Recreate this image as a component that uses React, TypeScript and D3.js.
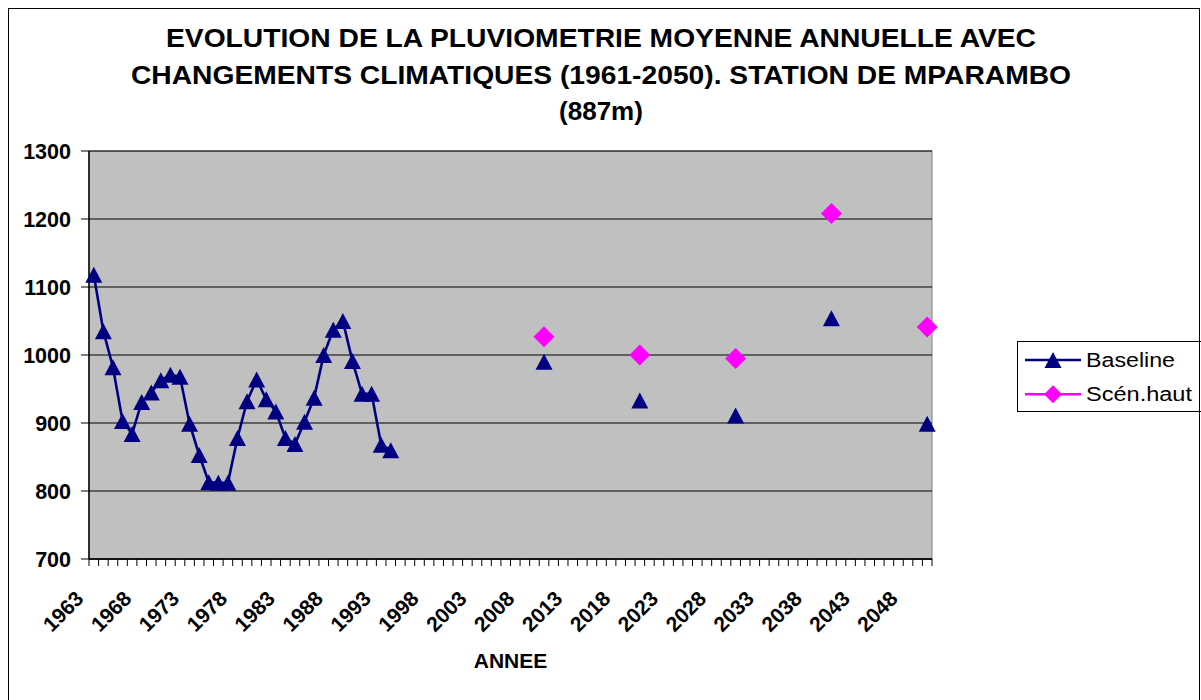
import React from "react";
import * as d3 from "d3";

const titleLines = [
  "EVOLUTION DE LA PLUVIOMETRIE MOYENNE ANNUELLE AVEC",
  "CHANGEMENTS CLIMATIQUES (1961-2050). STATION DE MPARAMBO",
  "(887m)",
];
const titleWidths = [870, 940, 0];

const firstYear = 1963;
const lastYear = 2050;
const categories = d3.range(firstYear, lastYear + 1);
const xTickLabels = [1963, 1968, 1973, 1978, 1983, 1988, 1993, 1998, 2003, 2008, 2013, 2018, 2023, 2028, 2033, 2038, 2043, 2048];
const yTicks = [700, 800, 900, 1000, 1100, 1200, 1300];

const histYears = [
  1963, 1964, 1965, 1966, 1967, 1968, 1969, 1970, 1971, 1972, 1973, 1974, 1975, 1976, 1977, 1978,
  1979, 1980, 1981, 1982, 1983, 1984, 1985, 1986, 1987, 1988, 1989, 1990, 1991, 1992, 1993, 1994,
];
const histBaseline = [
  1118, 1035, 982, 903, 884, 931, 945, 963, 971, 968, 899, 853, 813, 812, 812, 878,
  932, 964, 935, 917, 878, 869, 902, 937, 1000, 1037, 1050, 991, 943, 943, 868, 860,
];
const futureYears = [2010, 2020, 2030, 2040, 2050];
const futureBaseline = [990, 933, 911, 1054, 899];
const scenHaut = [1027, 1000, 995, 1208, 1041];

const legendItems = ["Baseline", "Scén.haut"];

const NAVY = "#000080";
const MAGENTA = "#FF00FF";
const FONT = "'Liberation Sans', Arial, sans-serif";

export default function App() {
  const left = 89, right = 932, top = 151, bottom = 559;
  const x = d3.scaleBand<number>().domain(categories).range([left, right]).padding(0);
  const y = d3.scaleLinear().domain([700, 1300]).range([bottom, top]);
  const cx = (yr: number) => (x(yr) as number) + x.bandwidth() / 2;

  const histPts = histYears.map((yr, i) => ({ yr, v: histBaseline[i] }));
  const line = d3.line<{ yr: number; v: number }>().x((d) => cx(d.yr)).y((d) => y(d.v));

  const diamond = (s: number) => `M0,${-s}L${s},0L0,${s}L${-s},0Z`;
  const triPath = (px: number, py: number) => {
    const h = 16, w = 17;
    return `M${px},${py - h / 2}L${px + w / 2},${py + h / 2}L${px - w / 2},${py + h / 2}Z`;
  };

  const boundaries = categories.map((c) => x(c) as number).concat([right]);

  return (
    <svg
      width={1201}
      height={700}
      style={{ position: "absolute", left: 0, top: 0, background: "#fff" }}
      fontFamily={FONT}
    >
      <rect x={8.5} y={8.5} width={1191} height={720} fill="#fff" stroke="#000" strokeWidth={1} />
      {titleLines.map((t, i) => (
        <text
          key={i}
          x={601}
          y={47 + i * 36.7}
          textAnchor="middle"
          fontWeight="bold"
          fontSize={26}
          {...(titleWidths[i] ? { textLength: titleWidths[i], lengthAdjust: "spacingAndGlyphs" } : {})}
        >
          {t}
        </text>
      ))}
      <rect x={left} y={top} width={right - left} height={bottom - top} fill="#C0C0C0" stroke="#808080" strokeWidth={1} />
      {yTicks.map((t) => (
        <g key={t}>
          <line x1={left} x2={right} y1={y(t)} y2={y(t)} stroke="#000" strokeWidth={1} />
          <line x1={left - 8} x2={left} y1={y(t)} y2={y(t)} stroke="#000" strokeWidth={1} />
          <text x={71} y={y(t)} dy="0.36em" textAnchor="end" fontWeight="bold" fontSize={21.5}>
            {t}
          </text>
        </g>
      ))}
      <line x1={left} x2={left} y1={top} y2={bottom} stroke="#000" strokeWidth={1.5} />
      <line x1={left} x2={right} y1={bottom} y2={bottom} stroke="#000" strokeWidth={1.5} />
      {boundaries.map((b, i) => (
        <line key={i} x1={b} x2={b} y1={bottom} y2={bottom + 7} stroke="#000" strokeWidth={1} />
      ))}
      {xTickLabels.map((yr) => (
        <text
          key={yr}
          transform={`translate(${cx(yr) - 9},${600}) rotate(-45)`}
          textAnchor="end"
          fontWeight="bold"
          fontSize={21}
        >
          {yr}
        </text>
      ))}
      <text x={(left + right) / 2} y={668} textAnchor="middle" fontWeight="bold" fontSize={21}>
        ANNEE
      </text>

      <path d={line(histPts) || ""} fill="none" stroke={NAVY} strokeWidth={2.6} />
      {histPts.map((d) => (
        <path key={d.yr} d={triPath(cx(d.yr), y(d.v))} fill={NAVY} />
      ))}
      {futureYears.map((yr, i) => (
        <path key={"b" + yr} d={triPath(cx(yr), y(futureBaseline[i]))} fill={NAVY} />
      ))}
      {futureYears.map((yr, i) => (
        <path key={"s" + yr} d={diamond(10.5)} transform={`translate(${cx(yr)},${y(scenHaut[i])})`} fill={MAGENTA} />
      ))}

      <rect x={1017.5} y={341.5} width={190} height={70} fill="#fff" stroke="#000" strokeWidth={1} />
      {legendItems.map((name, i) => {
        const ly = 360 + i * 34.3;
        return (
          <g key={name}>
            <line x1={1025} x2={1081} y1={ly} y2={ly} stroke={i === 0 ? NAVY : MAGENTA} strokeWidth={2.5} />
            {i === 0 ? (
              <path d={triPath(1053, ly)} fill={NAVY} />
            ) : (
              <path d={diamond(9)} transform={`translate(1053,${ly})`} fill={MAGENTA} />
            )}
            <text x={1086} y={ly} dy="0.35em" fontSize={20} textLength={i === 0 ? 89 : 106} lengthAdjust="spacingAndGlyphs">
              {name}
            </text>
          </g>
        );
      })}
      <line x1={1199.5} x2={1199.5} y1={8} y2={700} stroke="#000" strokeWidth={1} />
    </svg>
  );
}
